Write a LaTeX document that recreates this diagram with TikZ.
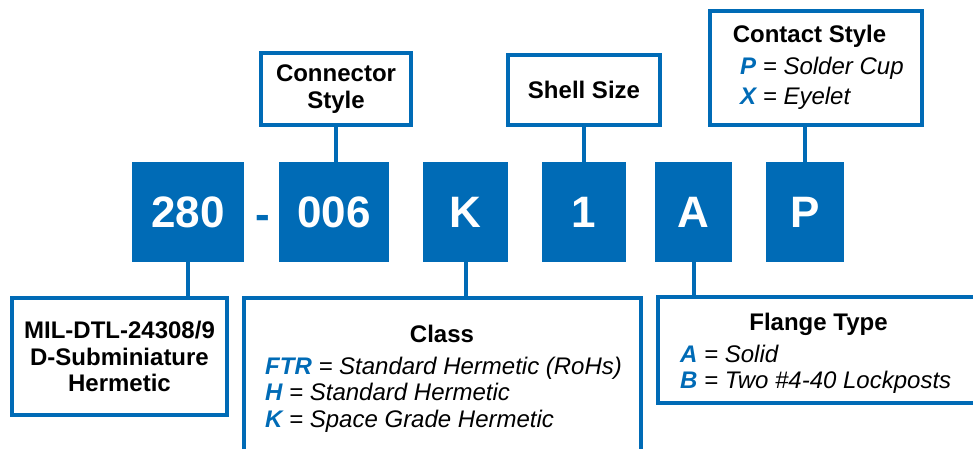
\documentclass[tikz,border=0pt]{standalone}
\usepackage{fontspec}
\setmainfont{Liberation Sans}
\usetikzlibrary{positioning}
\definecolor{partblue}{RGB}{0,107,182}
\def\codefont{\fontsize{44}{48}\selectfont\bfseries}
\def\labelfont{\fontsize{24}{26.5}\selectfont}
\def\partkey#1{\textcolor{partblue}{\bfseries #1}}

\begin{document}
\begin{tikzpicture}[
            x=1pt, y=-1pt,
            codebox/.style={%
                rectangle, fill=partblue, text=white, inner sep=0pt,%
                minimum height=100pt, font=\codefont%
            },
            labelbox/.style={%
                rectangle, draw=partblue, line width=4pt, fill=white,%
                inner sep=0pt, align=center, font=\labelfont\bfseries%
            },
            titletext/.style={inner sep=0pt, anchor=base, font=\labelfont\bfseries},
            keytext/.style={inner sep=0pt, anchor=base west, font=\labelfont\itshape},
            link/.style={draw=partblue, line width=4pt}
        ]

        \useasboundingbox (0,0) rectangle (973,449);

        % Part number fields
        \node (c280) [codebox, minimum width=112pt] at (188,212) {280};
        \node (dash) [inner sep=0pt, anchor=base, text=partblue, font=\codefont]
            at (262.5,229) {-};
        \node (c006) [codebox, minimum width=110pt] at (334,212) {006};
        \node (cK) [codebox, minimum width=85pt] at (465.5,212) {K};
        \node (c1) [codebox, minimum width=84pt] at (584,212) {1};
        \node (cA) [codebox, minimum width=77pt] at (693.5,212) {A};
        \node (cP) [codebox, minimum width=78pt] at (805,212) {P};

        % Description boxes
        \node (series) [labelbox, minimum width=215pt, minimum height=117pt]
            at (119.5,356.5) {
                MIL-DTL-24308/9\\
                D-Subminiature\\
                Hermetic
            };
        \node (connstyle) [labelbox, minimum width=150pt, minimum height=72pt]
            at (336,89) {
                Connector\\
                Style
            };
        \node (shellsize) [labelbox, minimum width=152pt, minimum height=70pt]
            at (584,90) {Shell Size};
        \node (contact) [labelbox, minimum width=212pt, minimum height=114pt]
            at (816,68) {};
        \node (class) [labelbox, minimum width=397pt, minimum height=180pt]
            at (442.5,388) {};
        \node (flange) [labelbox, minimum width=340pt, minimum height=106pt]
            at (828,350) {};

        % Connectors
        \draw [link] (c280.south) -- (c280.south |- series.north);
        \draw [link] (connstyle.south) -- (connstyle.south |- c006.north);
        \draw [link] (c1.north) -- (c1.north |- shellsize.south);
        \draw [link] (cP.north) -- (cP.north |- contact.south);
        \draw [link] (cK.south) -- (cK.south |- class.north);
        \draw [link] (cA.south) -- (cA.south |- flange.north);

        % Contact style
        \node (contacttitle) [titletext] at (809.5,43) {Contact Style};
        \node (contactP) [keytext] at (740,75) {\partkey{P} = Solder Cup};
        \node (contactX) [keytext] at (740,105) {\partkey{X} = Eyelet};

        % Class
        \node (classtitle) [titletext] at (442,342) {Class};
        \node (classFTR) [keytext] at (265,374) {\partkey{FTR} = Standard Hermetic (RoHs)};
        \node (classH) [keytext] at (265,400) {\partkey{H} = Standard Hermetic};
        \node (classK) [keytext] at (265,427) {\partkey{K} = Space Grade Hermetic};

        % Flange type
        \node (flangetitle) [titletext] at (818.5,330) {Flange Type};
        \node (flangeA) [keytext] at (680,362) {\partkey{A} = Solid};
        \node (flangeB) [keytext] at (680,388) {\partkey{B} = Two \#4-40 Lockposts};

        \end{tikzpicture}
\end{document}
